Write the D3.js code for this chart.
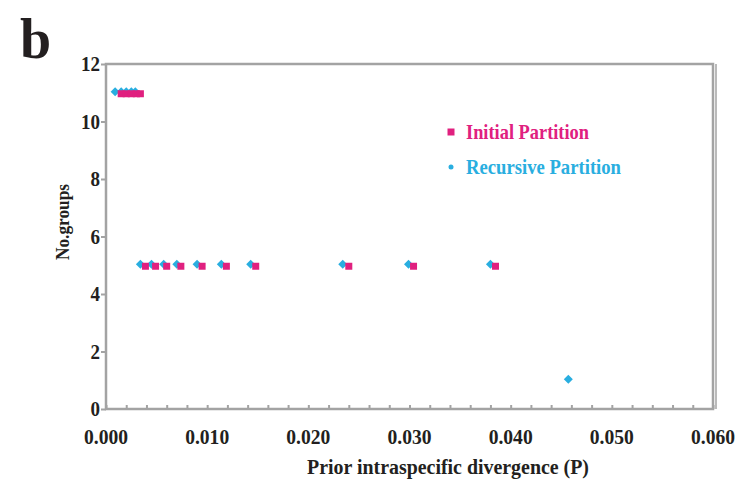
<!DOCTYPE html>
<html>
<head>
<meta charset="utf-8">
<script src="https://cdn.jsdelivr.net/npm/d3@7"></script>
<style>
  body { margin: 0; background: white; }
  text { font-family: "Liberation Serif", "Times New Roman", serif; font-weight: bold; }
</style>
</head>
<body>
<main></main>
<script>
// values
let initialX = [0.0015, 0.0020, 0.0025, 0.0030, 0.0034, 0.0039, 0.0049, 0.0060, 0.0074, 0.0095, 0.0119, 0.0148, 0.0240, 0.0304, 0.0385]
let initialY = [11, 11, 11, 11, 11, 5, 5, 5, 5, 5, 5, 5, 5, 5, 5]
let recursiveX = [0.0009, 0.0015, 0.0020, 0.0025, 0.0029, 0.0034, 0.0045, 0.0057, 0.0070, 0.0090, 0.0114, 0.0143, 0.0234, 0.0299, 0.0380, 0.0457]
let recursiveY = [11, 11, 11, 11, 11, 5, 5, 5, 5, 5, 5, 5, 5, 5, 5, 1]
let xTicks = [0, 0.01, 0.02, 0.03, 0.04, 0.05, 0.06]
let yTicks = [0, 2, 4, 6, 8, 10, 12]
let seriesNames = ["Initial Partition", "Recursive Partition"]

const svgWidth = 738
const svgHeight = 483
const plotLeft = 106, plotRight = 713, plotTop = 64, plotBottom = 409
const pink = "#e0207f"
const cyan = "#29aee0"
const gray = "#a3a3a3"
const ink = "#231f20"

let svg = d3.select("main")
    .append("svg")
    .attr("width", svgWidth)
    .attr("height", svgHeight)

let xScale = d3.scaleLinear().domain([0, 0.06]).range([plotLeft, plotRight])
let yScale = d3.scaleLinear().domain([0, 12]).range([plotBottom, plotTop])

// panel letter
svg.append("text")
    .attr("x", 20)
    .attr("y", 58)
    .attr("fill", ink)
    .style("font-size", "56px")
    .text("b")

// frame (outer right edge doubled like the original)
svg.append("rect")
    .attr("x", plotLeft).attr("y", plotTop)
    .attr("width", plotRight - plotLeft).attr("height", plotBottom - plotTop)
    .attr("fill", "none").attr("stroke", gray).attr("stroke-width", 2.5)
svg.append("line")
    .attr("x1", plotRight + 3).attr("x2", plotRight + 3)
    .attr("y1", plotTop).attr("y2", plotBottom)
    .attr("stroke", gray).attr("stroke-width", 1.5)

// x axis: minor ticks inside every 0.002
let minor = d3.range(0, 0.0601, 0.002)
let bottomAxis = d3.axisBottom(xScale).tickValues(minor).tickSize(-4).tickSizeOuter(0).tickFormat("")
let xAxis = svg.append("g")
    .attr("transform", `translate(0, ${plotBottom})`)
    .call(bottomAxis)
xAxis.select("path").remove()
xAxis.selectAll("line").attr("stroke", gray).attr("stroke-width", 2)

svg.append("g")
    .selectAll("text")
    .data(xTicks)
    .enter()
    .append("text")
    .attr("x", d => xScale(d))
    .attr("y", 444)
    .attr("text-anchor", "middle")
    .attr("fill", ink)
    .attr("textLength", 44)
    .attr("lengthAdjust", "spacingAndGlyphs")
    .style("font-size", "21px")
    .text(d => d3.format(".3f")(d))

// y axis
let leftAxis = d3.axisLeft(yScale).tickValues(yTicks).tickSize(5).tickSizeOuter(0).tickFormat("")
let yAxis = svg.append("g")
    .attr("transform", `translate(${plotLeft}, 0)`)
    .call(leftAxis)
yAxis.select("path").remove()
yAxis.selectAll("line").attr("stroke", gray).attr("stroke-width", 2)

svg.append("g")
    .selectAll("text")
    .data(yTicks)
    .enter()
    .append("text")
    .attr("x", 100)
    .attr("y", d => yScale(d) + 7)
    .attr("text-anchor", "end")
    .attr("fill", ink)
    .attr("textLength", d => String(d).length * 9.5)
    .attr("lengthAdjust", "spacingAndGlyphs")
    .style("font-size", "21px")
    .text(d => d)

// axis titles
svg.append("text")
    .attr("x", 448)
    .attr("y", 474)
    .attr("text-anchor", "middle")
    .attr("fill", ink)
    .attr("textLength", 282)
    .attr("lengthAdjust", "spacingAndGlyphs")
    .style("font-size", "20px")
    .text("Prior intraspecific divergence (P)")

svg.append("text")
    .attr("transform", "translate(69, 222) rotate(-90)")
    .attr("text-anchor", "middle")
    .attr("fill", ink)
    .attr("textLength", 76)
    .attr("lengthAdjust", "spacingAndGlyphs")
    .style("font-size", "18px")
    .text("No.groups")

// points
let initial = initialX.map((x, i) => ({x: x, y: initialY[i]}))
let recursive = recursiveX.map((x, i) => ({x: x, y: recursiveY[i]}))

let diamond = "M0,-4.5L4.5,0L0,4.5L-4.5,0Z"
let square = "M-3.5,-3.5H3.5V3.5H-3.5Z"

svg.append("g")
    .selectAll("path")
    .data(recursive)
    .enter()
    .append("path")
    .attr("d", diamond)
    .attr("transform", d => `translate(${xScale(d.x)}, ${yScale(d.y) - 1})`)
    .attr("fill", cyan)

svg.append("g")
    .selectAll("path")
    .data(initial)
    .enter()
    .append("path")
    .attr("d", square)
    .attr("transform", d => `translate(${xScale(d.x)}, ${yScale(d.y) + 1})`)
    .attr("fill", pink)

// legend
let legendColors = [pink, cyan]
let legendLengths = [123, 155]
svg.append("path")
    .attr("d", "M-3.5,-3.5H3.5V3.5H-3.5Z")
    .attr("transform", "translate(451, 132)")
    .attr("fill", pink)
svg.append("circle")
    .attr("cx", 451).attr("cy", 167).attr("r", 2.5)
    .attr("fill", cyan)
svg.selectAll("legendLabels")
    .data(seriesNames)
    .enter()
    .append("text")
    .attr("x", 466)
    .attr("y", (d, i) => 139 + i * 35)
    .attr("fill", (d, i) => legendColors[i])
    .attr("textLength", (d, i) => legendLengths[i])
    .attr("lengthAdjust", "spacingAndGlyphs")
    .style("font-size", "21px")
    .text(d => d)
</script>
</body>
</html>
